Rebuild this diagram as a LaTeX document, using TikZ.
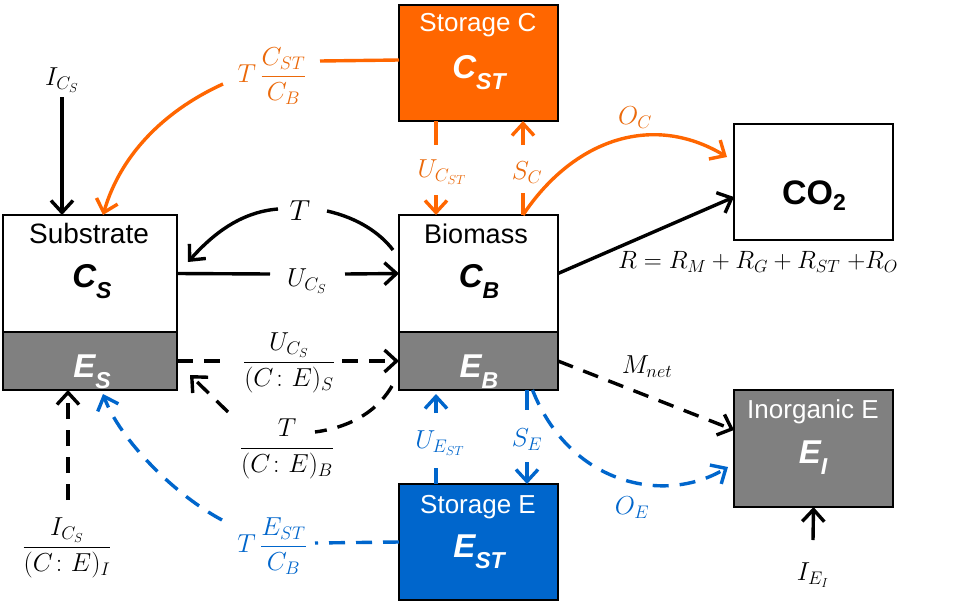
\RequirePackage{fix-cm}
\documentclass[tikz,border=0pt]{standalone}
\usepackage{amsmath}
\usepackage{fontspec}
\newfontfamily\arial{Liberation Sans}
\usetikzlibrary{arrows.meta}
\definecolor{orC}{RGB}{255,102,0}
\definecolor{orT}{RGB}{235,105,10}
\definecolor{blC}{RGB}{0,102,204}
\definecolor{blT}{RGB}{0,102,204}
\definecolor{grC}{RGB}{128,128,128}
\newcommand{\bv}[2]{{\arial\bfseries\itshape\fontsize{33}{36}\selectfont #1\raisebox{-0.36em}{\fontsize{23}{26}\selectfont #2}}}
\begin{document}
\begin{tikzpicture}[x=1pt,y=-1pt,
  box/.style={draw=black,line width=1.3pt,inner sep=0pt,outer sep=0pt},
  ttl/.style={font=\arial\fontsize{26}{30}\selectfont,inner sep=0pt,anchor=base},
  vr/.style={inner sep=0pt,anchor=base},
  ml/.style={inner sep=0pt,font=\fontsize{26}{30}\selectfont},
  arrowhd/.style={-{Straight Barb[length=12pt,width=22pt]}},
  ln/.style={line width=3.4pt},
  dsh/.style={dash pattern=on 16pt off 11pt},
]
\useasboundingbox[fill=white] (0,0) rectangle (955,605);
% boxes
\node[box,fill=white,minimum width=174pt,minimum height=117pt] (subC) at (90,273.5) {};
\node[box,fill=grC,minimum width=174pt,minimum height=58pt] (subE) at (90,361) {};
\node[box,fill=white,minimum width=159pt,minimum height=117pt] (bioC) at (478.5,273.5) {};
\node[box,fill=grC,minimum width=159pt,minimum height=58pt] (bioE) at (478.5,361) {};
\node[box,fill=orC,minimum width=159pt,minimum height=116pt] (stC) at (478.5,63) {};
\node[box,fill=white,minimum width=159pt,minimum height=116pt] (co2) at (813.5,182) {};
\node[box,fill=blC,minimum width=159pt,minimum height=116pt] (stE) at (478.5,542) {};
\node[box,fill=grC,minimum width=159pt,minimum height=117pt] (inE) at (813.5,448.5) {};
% box texts
\node[ttl,font=\arial\fontsize{28}{32}\selectfont] (subT) at (89,243) {Substrate};
\node[vr] (subV) at (92,287) {\bv{C}{S}};
\node[vr,text=white] (subEV) at (92,377) {\bv{E}{S}};
\node[ttl,font=\arial\fontsize{27}{31}\selectfont] (bioT) at (476,243) {Biomass};
\node[vr] (bioV) at (479,287) {\bv{C}{B}};
\node[vr,text=white] (bioEV) at (479,377) {\bv{E}{B}};
\node[ttl,text=white] (stCT) at (478,31) {Storage C};
\node[vr,text=white] (stCV) at (479,78) {\bv{C}{ST}};
\node[vr] (co2T) at (814,204) {{\arial\bfseries\fontsize{34}{38}\selectfont CO\raisebox{-0.2em}{\fontsize{23}{26}\selectfont 2}}};
\node[ttl,text=white] (inET) at (813,418) {Inorganic E};
\node[vr,text=white] (inEV) at (813,463) {\bv{E}{I}};
\node[ttl,text=white] (stET) at (478,513) {Storage E};
\node[vr,text=white] (stEV) at (479,557) {\bv{E}{ST}};
% labels
\node[ml] (ics) at (62,80) {$I_{C_S}$};
\node[ml,text=orT] (tcst) at (272,76) {$T\,\dfrac{C_{ST}}{C_B}$};
\node[ml,font=\fontsize{29}{32}\selectfont] (tt) at (300,211) {$T$};
\node[ml] (ucs) at (307,281) {$U_{C_S}$};
\node[ml,font=\fontsize{25}{29}\selectfont] (req) at (758,262) {$R=R_M+R_G+R_{ST}\;{+}R_O$};
\node[ml,text=orT] (ucst) at (442,172) {$U_{C_{ST}}$};
\node[ml,text=orT] (sc) at (527,173) {$S_C$};
\node[ml,text=orT] (oc) at (635,118) {$O_C$};
\node[ml] (fs) at (289,363) {$\dfrac{U_{C_S}}{(C\colon E)_S}$};
\node[ml] (fb) at (287,449) {$\dfrac{T}{(C\colon E)_B}$};
\node[ml] (fi) at (67,548) {$\dfrac{I_{C_S}}{(C\colon E)_I}$};
\node[ml,text=blT] (test) at (272,546) {$T\,\dfrac{E_{ST}}{C_B}$};
\node[ml,text=blT] (uest) at (440,443) {$U_{E_{ST}}$};
\node[ml,text=blT] (se) at (527,440) {$S_E$};
\node[ml,text=blT] (oe) at (632,508) {$O_E$};
\node[ml] (mnet) at (647,367) {$M_{net}$};
\node[ml] (iei) at (813,575) {$I_{E_I}$};
% coordinates
\coordinate (o1) at (320,61);
\coordinate (o2) at (223,84);
\coordinate (t1) at (393,250);
\coordinate (t2) at (327,211);
\coordinate (t3) at (278,209);
\coordinate (u1) at (270,274);
\coordinate (u2) at (345,274);
\coordinate (uc1) at (436,145);
\coordinate (uc2) at (436,195);
\coordinate (sc1) at (523,193);
\coordinate (sc2) at (523,145);
\coordinate (d1) at (230,361);
\coordinate (d2) at (342,361);
\coordinate (e0) at (392,386);
\coordinate (e1) at (315,432);
\coordinate (e2) at (228,412);
\coordinate (i1) at (68,500);
\coordinate (b1) at (315,543);
\coordinate (b2) at (222,520);
\coordinate (ue1) at (436,468);
\coordinate (ue2) at (436,413);
\coordinate (se1) at (527,410);
\coordinate (se2) at (527,462);
\coordinate (ie1) at (813,540);
% black connectors
\draw[ln,arrowhd] ([yshift=-5pt]ics.south) -- (ics.south |- subC.north);
\draw[ln] (t1) .. controls (380,233) and (358,218) .. (t2);
\draw[ln,arrowhd] (t3) .. controls (240,212) and (212,235) .. ([shift={(11pt,11.5pt)}]subC.east);
\draw[ln] (subC.east) -- (u1);
\draw[ln,arrowhd] (u2) -- (bioC.west);
\draw[ln,arrowhd] (bioC.east) -- ([yshift=-15pt]co2.west);
\draw[ln,dsh] (subE.east) -- (d1);
\draw[ln,dsh,arrowhd] (d2) -- (bioE.west);
\draw[ln,dsh] (e0) .. controls (375,415) and (345,428) .. (e1);
\draw[ln,dsh,arrowhd] (e2) -- ([shift={(13pt,-14pt)}]subE.east);
\draw[ln,dsh,arrowhd] (i1) -- ([xshift=-22pt]subE.south);
\draw[ln,dsh,arrowhd] (bioE.east) -- ([yshift=18.5pt]inE.west);
\draw[ln,arrowhd] (ie1) -- (inE.south);
% orange connectors
\draw[ln,orC] ([yshift=3pt]stC.west) -- (o1);
\draw[ln,orC,arrowhd] (o2) .. controls (170,108) and (122,150) .. ([xshift=13pt]subC.north);
\draw[ln,orC] ([xshift=-42.5pt]stC.south) -- (uc1);
\draw[ln,orC,arrowhd] (uc2) -- ([xshift=-42.5pt]bioC.north);
\draw[ln,orC] ([xshift=44.5pt]bioC.north) -- (sc1);
\draw[ln,orC,arrowhd] (sc2) -- ([xshift=44.5pt]stC.south);
\draw[ln,orC,arrowhd] ([xshift=44.5pt]bioC.north) .. controls (573,140) and (652,112) .. ([shift={(-7pt,25pt)}]co2.west);
% blue connectors
\draw[ln,blC,dsh] (stE.west) -- (b1);
\draw[ln,blC,dsh,arrowhd] (b2) .. controls (175,495) and (120,440) .. ([shift={(13pt,-4pt)}]subE.south);
\draw[ln,blC] ([xshift=-42.5pt]stE.north) -- (ue1);
\draw[ln,blC,arrowhd] (ue2) -- ([shift={(-42.5pt,-4pt)}]bioE.south);
\draw[ln,blC] ([xshift=48.5pt]bioE.south) -- (se1);
\draw[ln,blC,arrowhd] (se2) -- ([xshift=48.5pt]stE.north);
\draw[ln,blC,dsh,arrowhd] ([xshift=54pt]bioE.south) .. controls (570,485) and (665,505) .. ([shift={(-6pt,-18.5pt)}]inE.west);
\end{tikzpicture}
\end{document}
